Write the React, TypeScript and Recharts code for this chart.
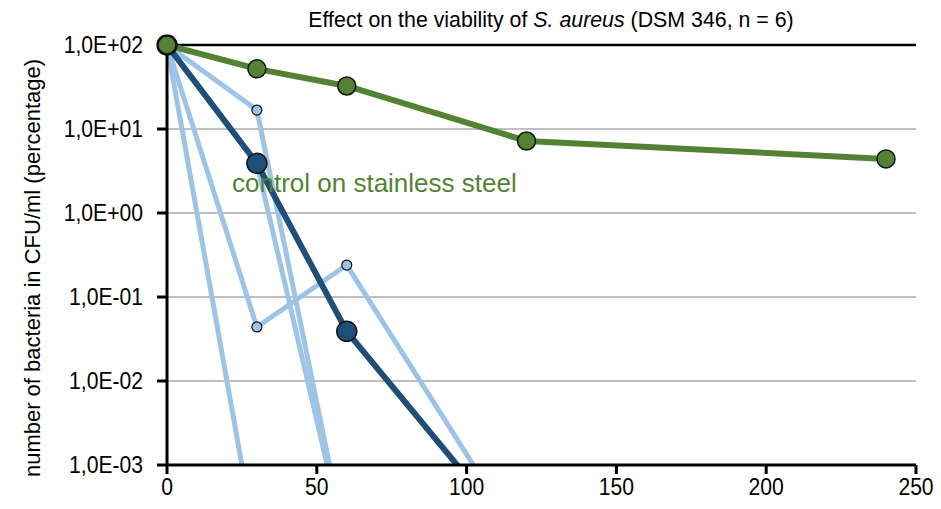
import React from "react";
import {
  LineChart,
  Line,
  XAxis,
  YAxis,
  CartesianGrid,
  ReferenceLine,
} from "recharts";

// minutes of contact
const times = [0, 30, 60, 120, 240];
// survival in % (log axis); 0.0001 = below detection, drawn off the axis
const control = [100, 52, 32.5, 7.2, 4.4];
const mean = [100, 3.9, 0.039, 0.0001, null];
const rep1 = [100, 0.0001, null, null, null];
const rep2 = [100, 0.044, 0.24, 0.0001, null];
const rep3 = [100, 16.8, 0.0001, null, null];
const rep4 = [100, 3.9, 0.0001, null, null];

const xTicks = [0, 50, 100, 150, 200, 250];
const yTicks = [0.001, 0.01, 0.1, 1, 10, 100];

const data = times.map((t, i) => ({
  time: t,
  control: control[i],
  mean: mean[i],
  rep1: rep1[i],
  rep2: rep2[i],
  rep3: rep3[i],
  rep4: rep4[i],
}));

const GREEN = "#548235";
const DARK = "#1F4E79";
const LIGHT = "#9DC3E6";
const FONT = "'Liberation Sans', Arial, sans-serif";

const fmtExp = (v: number) => {
  const e = Math.round(Math.log10(v));
  return `1,0E${e < 0 ? "-" : "+"}${String(Math.abs(e)).padStart(2, "0")}`;
};

// narrow-looking tick text like the original
function NarrowTick(props: any) {
  const { x, y, payload, textAnchor, axis } = props;
  const label = axis === "y" ? fmtExp(payload.value) : String(payload.value);
  return (
    <g transform={`translate(${x},${y}) scale(0.88,1)`}>
      <text
        x={0}
        y={0}
        dy={axis === "y" ? "0.35em" : "0.71em"}
        textAnchor={textAnchor}
        fill="#000"
        fontSize={24}
        fontFamily={FONT}
      >
        {label}
      </text>
    </g>
  );
}

const lightDot = { r: 5, fill: LIGHT, stroke: "#111", strokeWidth: 1.2, clipDot: false };

export default function App() {
  return (
    <div
      style={{
        position: "absolute",
        left: 0,
        top: 0,
        width: 941,
        height: 509,
        background: "#fff",
        fontFamily: FONT,
      }}
    >
      <LineChart
        width={941}
        height={509}
        data={data}
        margin={{ top: 45, right: 25, bottom: 0, left: 0 }}
      >
        <CartesianGrid vertical={false} stroke="#BFBFBF" strokeWidth={2} />
        <ReferenceLine y={100} stroke="#000" strokeWidth={2.5} />
        <XAxis
          dataKey="time"
          type="number"
          domain={[0, 250]}
          ticks={xTicks}
          height={44}
          tickSize={9}
          tickMargin={4}
          stroke="#000"
          strokeWidth={3}
          tick={<NarrowTick axis="x" />}
        />
        <YAxis
          type="number"
          scale="log"
          domain={[0.001, 100]}
          allowDataOverflow
          ticks={yTicks}
          width={167}
          tickSize={10}
          tickMargin={14}
          stroke="#000"
          strokeWidth={3}
          tick={<NarrowTick axis="y" />}
        />
        <Line dataKey="rep1" stroke={LIGHT} strokeWidth={5} dot={lightDot} activeDot={false} isAnimationActive={false} />
        <Line dataKey="rep2" stroke={LIGHT} strokeWidth={5} dot={lightDot} activeDot={false} isAnimationActive={false} />
        <Line dataKey="rep3" stroke={LIGHT} strokeWidth={5} dot={lightDot} activeDot={false} isAnimationActive={false} />
        <Line dataKey="rep4" stroke={LIGHT} strokeWidth={5} dot={lightDot} activeDot={false} isAnimationActive={false} />
        <Line
          dataKey="mean"
          stroke={DARK}
          strokeWidth={6}
          dot={{ r: 10, fill: DARK, stroke: "#111", strokeWidth: 1.5, clipDot: false }}
          activeDot={false}
          isAnimationActive={false}
        />
        <Line
          dataKey="control"
          stroke={GREEN}
          strokeWidth={6}
          dot={{ r: 9, fill: GREEN, stroke: "#111", strokeWidth: 1.5, clipDot: false }}
          activeDot={false}
          isAnimationActive={false}
        />
      </LineChart>

      <div
        style={{
          position: "absolute",
          left: 251,
          top: 6,
          width: 600,
          textAlign: "center",
          fontSize: 22,
          lineHeight: "28px",
          color: "#000",
          whiteSpace: "nowrap",
          transform: "scaleX(0.97)",
        }}
      >
        Effect on the viability of <i>S. aureus</i> (DSM 346, n = 6)
      </div>

      <div
        style={{
          position: "absolute",
          left: 232,
          top: 167,
          fontSize: 26,
          lineHeight: "32px",
          color: GREEN,
          whiteSpace: "nowrap",
        }}
      >
        control on stainless steel
      </div>

      <div
        style={{
          position: "absolute",
          left: 33,
          top: 268,
          transform: "translate(-50%, -50%) rotate(-90deg)",
          fontSize: 22,
          color: "#000",
          whiteSpace: "nowrap",
        }}
      >
        number of bacteria in CFU/ml (percentage)
      </div>
    </div>
  );
}
